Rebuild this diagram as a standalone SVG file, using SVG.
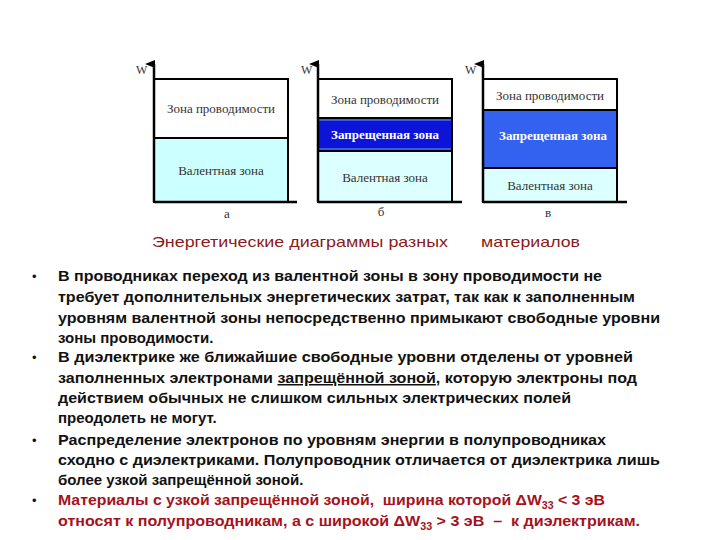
<svg xmlns="http://www.w3.org/2000/svg" width="720" height="540" viewBox="0 0 720 540">
<style>
.ax{stroke:#000;stroke-width:2.5;fill:none}
.bd{stroke:#000;stroke-width:2;fill:none}
.zl{font-family:"Liberation Serif","Times New Roman",serif;font-size:13px;fill:#333;text-anchor:middle}
.zf{font-family:"Liberation Serif","Times New Roman",serif;font-size:13px;font-weight:bold;fill:#fff;text-anchor:middle}
.w{font-family:"Liberation Serif","Times New Roman",serif;font-size:12px;fill:#333}
.cap{font-family:"Liberation Sans",Arial,sans-serif;font-size:15px;fill:#8b1a1a}
.t{font-family:"Liberation Sans",Arial,sans-serif;font-size:15px;font-weight:bold;fill:#111;white-space:pre}
.r{font-family:"Liberation Sans",Arial,sans-serif;font-size:15px;font-weight:bold;fill:#a5121c;white-space:pre}
.b{font-family:"Liberation Sans",Arial,sans-serif;font-size:13px;fill:#111}
</style>
<defs>
<marker id="ar" markerWidth="8" markerHeight="10" refX="4" refY="9" orient="auto-start-reverse" markerUnits="userSpaceOnUse" viewBox="0 0 8 10">
<path d="M0,10 L4,0 L8,10 Z" fill="#000"/>
</marker>
</defs>
<rect width="720" height="540" fill="#fff"/>

<g id="diagram-a">
<rect x="154" y="138" width="134" height="64" fill="#ccffff"/>
<rect x="154" y="79" width="134" height="123" class="bd"/>
<line x1="154" y1="138" x2="288" y2="138" class="bd"/>
<line x1="154" y1="202" x2="154" y2="64" class="ax" marker-end="url(#ar)"/>
<line x1="154" y1="202" x2="297" y2="202" class="ax"/>
<text x="136" y="74" class="w">W</text>
<text x="221" y="113" class="zl">Зона проводимости</text>
<text x="221" y="175" class="zl">Валентная зона</text>
<text x="227" y="218" class="zl">а</text>
</g>

<g id="diagram-b">
<rect x="318" y="151" width="134" height="51" fill="#dcffff"/>
<rect x="318" y="118" width="134" height="33" fill="#3a5ae8"/>
<rect x="318" y="121" width="134" height="27" fill="#0c14d8"/>
<rect x="318" y="79" width="134" height="123" class="bd"/>
<line x1="318" y1="118" x2="452" y2="118" class="bd"/>
<line x1="318" y1="151" x2="452" y2="151" class="bd"/>
<line x1="318" y1="202" x2="318" y2="64" class="ax" marker-end="url(#ar)"/>
<line x1="318" y1="202" x2="462" y2="202" class="ax"/>
<text x="301" y="74" class="w">W</text>
<text x="385" y="104" class="zl">Зона проводимости</text>
<text x="385" y="139" class="zf">Запрещенная зона</text>
<text x="385" y="182" class="zl">Валентная зона</text>
<text x="381" y="216" class="zl">б</text>
</g>

<g id="diagram-c">
<rect x="483" y="168" width="134" height="34" fill="#dcffff"/>
<rect x="483" y="110" width="134" height="58" fill="#3361f0"/>
<rect x="483" y="79" width="134" height="123" class="bd"/>
<line x1="483" y1="110" x2="617" y2="110" class="bd"/>
<line x1="483" y1="168" x2="617" y2="168" class="bd"/>
<line x1="483" y1="202" x2="483" y2="64" class="ax" marker-end="url(#ar)"/>
<line x1="483" y1="202" x2="627" y2="202" class="ax"/>
<text x="465" y="74" class="w">W</text>
<text x="550" y="100" class="zl">Зона проводимости</text>
<text x="553" y="140" class="zf">Запрещенная зона</text>
<text x="550" y="190" class="zl">Валентная зона</text>
<text x="548" y="217" class="zl">в</text>
</g>

<g id="caption">
<text x="152" y="247" class="cap" textLength="296" lengthAdjust="spacingAndGlyphs">Энергетические диаграммы разных</text>
<text x="481" y="247" class="cap" textLength="99" lengthAdjust="spacingAndGlyphs">материалов</text>
</g>

<g id="bullets">
<text x="32" y="281" class="b">•</text>
<text x="32" y="362" class="b">•</text>
<text x="32" y="445" class="b">•</text>
<text x="32" y="505" class="b" fill="#a5121c">•</text>

<text x="58" y="281" class="t" textLength="544" lengthAdjust="spacingAndGlyphs">В проводниках переход из валентной зоны в зону проводимости не</text>
<text x="58" y="302" class="t" textLength="577" lengthAdjust="spacingAndGlyphs">требует дополнительных энергетических затрат, так как к заполненным</text>
<text x="58" y="323" class="t" textLength="602" lengthAdjust="spacingAndGlyphs">уровням валентной зоны непосредственно примыкают свободные уровни</text>
<text x="58" y="343" class="t">зоны проводимости.</text>

<text x="58" y="362" class="t" textLength="575" lengthAdjust="spacingAndGlyphs">В диэлектрике же ближайшие свободные уровни отделены от уровней</text>
<text x="58" y="383" class="t" textLength="579" lengthAdjust="spacingAndGlyphs">заполненных электронами <tspan text-decoration="underline">запрещённой зоной</tspan>, которую электроны под</text>
<text x="58" y="403" class="t" textLength="513" lengthAdjust="spacingAndGlyphs">действием обычных не слишком сильных электрических полей</text>
<text x="58" y="423" class="t">преодолеть не могут.</text>

<text x="58" y="445" class="t" textLength="548" lengthAdjust="spacingAndGlyphs">Распределение электронов по уровням энергии в полупроводниках</text>
<text x="58" y="465" class="t" textLength="602" lengthAdjust="spacingAndGlyphs">сходно с диэлектриками. Полупроводник отличается от диэлектрика лишь</text>
<text x="58" y="485" class="t">более узкой запрещённой зоной.</text>

<text x="58" y="505" class="r" textLength="547" lengthAdjust="spacingAndGlyphs">Материалы с узкой запрещённой зоной,  ширина которой ΔW<tspan dy="4" font-size="10">33</tspan><tspan dy="-4"> &lt; 3 эВ</tspan></text>
<text x="58" y="526" class="r" textLength="582" lengthAdjust="spacingAndGlyphs">относят к полупроводникам, а с широкой ΔW<tspan dy="4" font-size="10">33</tspan><tspan dy="-4"> &gt; 3 эВ  –  к диэлектрикам.</tspan></text>
</g>
</svg>
